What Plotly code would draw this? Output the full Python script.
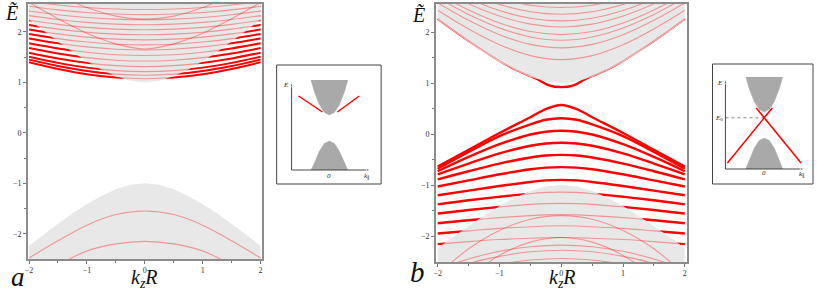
import plotly.graph_objects as go

# ---------------- data ----------------
k_nodes = [-2, -1.5, -1, -0.5, 0, 0.5, 1, 1.5, 2]
k_fine = [-2, -1.75, -1.5, -1.25, -1, -0.75, -0.5, -0.25, 0, 0.25, 0.5, 0.75, 1, 1.25, 1.5, 1.75, 2]
cond_band_edge = [2.236, 2.016, 1.803, 1.601, 1.414, 1.25, 1.118, 1.031, 1.0,
                  1.031, 1.118, 1.25, 1.414, 1.601, 1.803, 2.016, 2.236]
val_band_edge = [-2.236, -2.016, -1.803, -1.601, -1.414, -1.25, -1.118, -1.031, -1.0,
                 -1.031, -1.118, -1.25, -1.414, -1.601, -1.803, -2.016, -2.236]

# panel a : levels in the conduction region
a_levels = [
    [1.395, 1.263, 1.160, 1.093, 1.07, 1.093, 1.160, 1.263, 1.395],
    [1.449, 1.323, 1.225, 1.162, 1.14, 1.162, 1.225, 1.323, 1.449],
    [1.505, 1.384, 1.290, 1.230, 1.21, 1.230, 1.290, 1.384, 1.505],
    [1.586, 1.472, 1.384, 1.329, 1.31, 1.329, 1.384, 1.472, 1.586],
    [1.678, 1.570, 1.489, 1.437, 1.42, 1.437, 1.489, 1.570, 1.678],
    [1.772, 1.671, 1.594, 1.546, 1.53, 1.546, 1.594, 1.671, 1.772],
    [1.868, 1.772, 1.700, 1.655, 1.64, 1.655, 1.700, 1.772, 1.868],
    [1.956, 1.865, 1.797, 1.754, 1.74, 1.754, 1.797, 1.865, 1.956],
    [2.046, 1.958, 1.894, 1.854, 1.84, 1.854, 1.894, 1.958, 2.046],
    [2.136, 2.053, 1.991, 1.953, 1.94, 1.953, 1.991, 2.053, 2.136],
    [2.227, 2.147, 2.088, 2.052, 2.04, 2.052, 2.088, 2.147, 2.227],
    [2.319, 2.243, 2.186, 2.152, 2.14, 2.152, 2.186, 2.243, 2.319],
    [2.412, 2.338, 2.284, 2.251, 2.24, 2.251, 2.284, 2.338, 2.412],
    [2.505, 2.434, 2.382, 2.351, 2.34, 2.351, 2.382, 2.434, 2.505],
    [2.599, 2.531, 2.481, 2.450, 2.44, 2.450, 2.481, 2.531, 2.599],
]
a_cross_levels = [
    [2.58, 2.26, 1.97, 1.76, 1.66, 1.76, 1.97, 2.26, 2.58],
    [2.95, 2.72, 2.48, 2.31, 2.25, 2.31, 2.48, 2.72, 2.95],
]
a_valence_levels = [
    [-2.48, -2.14, -1.83, -1.62, -1.55, -1.62, -1.83, -2.14, -2.48],
    [-2.95, -2.62, -2.34, -2.20, -2.15, -2.20, -2.34, -2.62, -2.95],
]

# panel b
k_gap = [-2, -1.5, -1, -0.7, -0.4, -0.2, 0, 0.2, 0.4, 0.7, 1, 1.5, 2]
b_gap_level = [2.26, 1.83, 1.44, 1.24, 1.085, 0.955, 0.92, 0.955, 1.085, 1.24, 1.44, 1.83, 2.26]
k_surf = [-2, -1.5, -1, -0.5, -0.25, 0, 0.25, 0.5, 1, 1.5, 2]
b_surface_levels = [
    [-0.64, -0.31, 0.02, 0.33, 0.49, 0.57, 0.49, 0.33, 0.02, -0.31, -0.64],
    [-0.68, -0.35, -0.04, 0.19, 0.28, 0.31, 0.28, 0.19, -0.04, -0.35, -0.68],
    [-0.73, -0.45, -0.20, -0.01, 0.045, 0.065, 0.045, -0.01, -0.20, -0.45, -0.73],
    [-0.79, -0.58, -0.38, -0.23, -0.185, -0.17, -0.185, -0.23, -0.38, -0.58, -0.79],
    [-0.89, -0.73, -0.58, -0.46, -0.42, -0.41, -0.42, -0.46, -0.58, -0.73, -0.89],
    [-1.03, -0.91, -0.79, -0.69, -0.66, -0.65, -0.66, -0.69, -0.79, -0.91, -1.03],
    [-1.20, -1.11, -1.02, -0.94, -0.91, -0.90, -0.91, -0.94, -1.02, -1.11, -1.20],
    [-1.38, -1.30, -1.23, -1.17, -1.145, -1.14, -1.145, -1.17, -1.23, -1.30, -1.38],
    [-1.56, -1.49, -1.43, -1.38, -1.365, -1.36, -1.365, -1.38, -1.43, -1.49, -1.56],
    [-1.75, -1.69, -1.64, -1.60, -1.585, -1.58, -1.585, -1.60, -1.64, -1.69, -1.75],
    [-1.95, -1.90, -1.85, -1.82, -1.805, -1.80, -1.805, -1.82, -1.85, -1.90, -1.95],
    [-2.16, -2.11, -2.07, -2.045, -2.035, -2.03, -2.035, -2.045, -2.07, -2.11, -2.16],
]
b_upper_levels = [
    [2.427, 2.061, 1.753, 1.538, 1.46, 1.538, 1.753, 2.061, 2.427],
    [2.572, 2.230, 1.948, 1.758, 1.69, 1.758, 1.948, 2.230, 2.572],
    [2.673, 2.345, 2.080, 1.903, 1.84, 1.903, 2.080, 2.345, 2.673],
    [2.750, 2.433, 2.178, 2.009, 1.95, 2.009, 2.178, 2.433, 2.750],
    [2.858, 2.554, 2.313, 2.155, 2.10, 2.155, 2.313, 2.554, 2.858],
    [2.948, 2.654, 2.422, 2.272, 2.22, 2.272, 2.422, 2.654, 2.948],
    [3.047, 2.764, 2.542, 2.399, 2.35, 2.399, 2.542, 2.764, 3.047],
    [3.148, 2.875, 2.663, 2.527, 2.48, 2.527, 2.663, 2.875, 3.148],
]
b_valence_levels = [
    [-2.76, -2.25, -1.89, -1.67, -1.60, -1.67, -1.89, -2.25, -2.76],
    [-3.43, -2.82, -2.38, -2.12, -2.03, -2.12, -2.38, -2.82, -3.43],
    [-2.65, -2.45, -2.30, -2.21, -2.18, -2.21, -2.30, -2.45, -2.65],
    [-2.90, -2.55, -2.40, -2.31, -2.28, -2.31, -2.40, -2.55, -2.90],
    [-3.00, -2.75, -2.56, -2.47, -2.44, -2.47, -2.56, -2.75, -3.00],
]

# axis ticks
major_ticks = [-2, -1, 0, 1, 2]
major_labels = ["\u22122", "\u22121", "0", "1", "2"]
minor_ticks = [-1.5, -0.5, 0.5, 1.5]

# insets (schematic)
inset_k = [-0.37, -0.3, -0.2, -0.1, 0, 0.1, 0.2, 0.3, 0.37]
inset_cond = [0.958, 0.719, 0.464, 0.311, 0.26, 0.311, 0.464, 0.719, 0.958]
inset_a_val = [-0.84, -0.70, -0.46, -0.31, -0.26, -0.31, -0.46, -0.70, -0.84]
inset_b_val = [-0.88, -0.70, -0.46, -0.31, -0.26, -0.31, -0.46, -0.70, -0.88]
inset_a_left_k, inset_a_left_E = [-0.62, -0.14], [0.64, 0.32]
inset_a_right_k, inset_a_right_E = [0.16, 0.60], [0.32, 0.64]
inset_b_line1_k, inset_b_line1_E = [-0.74, 0.16], [-0.76, 0.34]
inset_b_line2_k, inset_b_line2_E = [-0.16, 0.74], [0.34, -0.76]
inset_b_E0 = 0.144
inset_a_axes = {"k": [-0.76, 0.84], "E": [-0.84, 0.92]}
inset_b_axes = {"k": [-0.78, 0.82], "E": [-0.88, 0.92]}

W, H = 817, 291
RED = "#ff0000"
PALE = "rgba(255,0,0,0.36)"
GRAYFILL = "#e8e8e8"
SERIF = "Liberation Serif, Times New Roman, serif"

fig = go.Figure()


def line(x, y, xa, ya, width, color=RED, shape="spline", dash="solid"):
    fig.add_trace(go.Scatter(x=x, y=y, mode="lines", xaxis=xa, yaxis=ya,
                             line=dict(color=color, width=width, shape=shape, dash=dash),
                             showlegend=False, hoverinfo="skip"))


def band(edge, cap, xa, ya, color=GRAYFILL):
    fig.add_trace(go.Scatter(x=k_fine + [k_fine[-1], k_fine[0]], y=edge + [cap, cap],
                             mode="lines", fill="toself", fillcolor=color,
                             line=dict(width=0, color="rgba(0,0,0,0)"),
                             xaxis=xa, yaxis=ya, showlegend=False, hoverinfo="skip"))


# ---- panel a : bold levels, bands on top, then faint levels ----
for lv in a_levels:
    line(k_nodes, lv, "x", "y", 2.0)
band(cond_band_edge, 3.5, "x", "y")
band(val_band_edge, -3.5, "x", "y")
for lv in a_levels + a_cross_levels + a_valence_levels:
    line(k_nodes, lv, "x", "y", 1.1, color=PALE)

# ---- panel b ----
line(k_gap, b_gap_level, "x2", "y2", 2.4)
for lv in b_surface_levels:
    line(k_surf, lv, "x2", "y2", 2.4)
band(cond_band_edge, 3.5, "x2", "y2")
band(val_band_edge, -3.5, "x2", "y2")
line(k_gap, b_gap_level, "x2", "y2", 1.1, color=PALE)
for lv in b_surface_levels:
    line(k_surf, lv, "x2", "y2", 1.1, color=PALE)
for lv in b_upper_levels + b_valence_levels:
    line(k_nodes, lv, "x2", "y2", 1.1, color=PALE)

# ---- insets ----
INSET_GRAY = "#a9a9a9"
for xa, ya, val in (("x3", "y3", inset_a_val), ("x4", "y4", inset_b_val)):
    fig.add_trace(go.Scatter(x=inset_k, y=inset_cond, mode="lines", fill="toself",
                             fillcolor=INSET_GRAY, line=dict(width=0.5, color=INSET_GRAY),
                             xaxis=xa, yaxis=ya, showlegend=False, hoverinfo="skip"))
    fig.add_trace(go.Scatter(x=inset_k, y=val, mode="lines", fill="toself",
                             fillcolor=INSET_GRAY, line=dict(width=0.5, color=INSET_GRAY),
                             xaxis=xa, yaxis=ya, showlegend=False, hoverinfo="skip"))
line(inset_a_left_k, inset_a_left_E, "x3", "y3", 1.5, shape="linear")
line(inset_a_right_k, inset_a_right_E, "x3", "y3", 1.5, shape="linear")
line([inset_b_axes["k"][0], 0], [inset_b_E0, inset_b_E0], "x4", "y4", 0.7,
     color="#555", shape="linear", dash="dot")
line(inset_b_line1_k, inset_b_line1_E, "x4", "y4", 1.5, shape="linear")
line(inset_b_line2_k, inset_b_line2_E, "x4", "y4", 1.5, shape="linear")

# inset axes drawn as arrows
for xa, ya, ax in (("x3", "y3", inset_a_axes), ("x4", "y4", inset_b_axes)):
    k0, k1 = ax["k"]
    e0, e1 = ax["E"]
    for xs, ys in (([k0, k0], [e0, e1]), ([k0, k1], [e0, e0])):
        fig.add_trace(go.Scatter(x=xs, y=ys, mode="lines+markers", xaxis=xa, yaxis=ya,
                                 line=dict(color="#333", width=0.9),
                                 marker=dict(symbol=["circle", "arrow"], size=[0, 5],
                                             angleref="previous", color="#333"),
                                 showlegend=False, hoverinfo="skip"))

small = dict(family=SERIF, size=7, color="#222")
for xr, yr, x, y, t in (
        ("x3", "y3", -0.88, 0.86, "<i>E</i>"),
        ("x3", "y3", 0.0, -0.95, "<i>0</i>"),
        ("x3", "y3", 0.76, -0.97, "<i>k</i><sub>\u2225</sub>"),
        ("x4", "y4", -0.88, 0.84, "<i>E</i>"),
        ("x4", "y4", -0.90, 0.15, "<i>E</i><sub>0</sub>"),
        ("x4", "y4", 0.0, -0.96, "<i>0</i>"),
        ("x4", "y4", 0.76, -0.98, "<i>k</i><sub>\u2225</sub>")):
    fig.add_annotation(x=x, y=y, xref=xr, yref=yr, text=t, showarrow=False, font=small)

# inset frames
for x0, x1, y0, y1 in ((275, 380, 65, 184), (713, 814, 64, 184)):
    fig.add_shape(type="rect", xref="paper", yref="paper",
                  x0=x0 / W, x1=x1 / W, y0=1 - y1 / H, y1=1 - y0 / H,
                  line=dict(color="#444", width=1), fillcolor="rgba(0,0,0,0)")

# big labels
big = dict(family=SERIF, color="#111")
for x, y, t, s in ((9, 13, "<i>\u1EBC</i>", 20), (418, 14, "<i>\u1EBC</i>", 20),
                   (142, 278, "<i>k<sub>z</sub>R</i>", 20), (562, 278, "<i>k<sub>z</sub>R</i>", 20),
                   (15, 277, "<i>a</i>", 27), (417, 272, "<i>b</i>", 29)):
    fig.add_annotation(x=x / W, y=1 - y / H, xref="paper", yref="paper", text=t,
                       showarrow=False, font=dict(size=s, **big),
                       xanchor="center", yanchor="middle")

tickfont = dict(family=SERIF, size=8, color="#333")
AX = dict(showgrid=False, zeroline=False, showline=True, linecolor="#8c8c8c", linewidth=1.6,
          mirror=True, ticks="outside", ticklen=3, tickwidth=1, tickcolor="#777",
          tickmode="array", tickvals=major_ticks, ticktext=major_labels, tickfont=tickfont,
          minor=dict(tickmode="array", tickvals=minor_ticks, ticks="outside", ticklen=2,
                     tickcolor="#777", showgrid=False),
          fixedrange=True)
HID = dict(visible=False, showgrid=False, zeroline=False, fixedrange=True)

fig.update_layout(
    width=W, height=H, margin=dict(l=0, r=0, t=0, b=0),
    paper_bgcolor="white", plot_bgcolor="white",
    xaxis=dict(domain=[25 / W, 260 / W], range=[-2.02, 2.02], anchor="y", **AX),
    yaxis=dict(domain=[1 - 259 / H, 1 - 4 / H], range=[-2.5, 2.55], anchor="x", **AX),
    xaxis2=dict(domain=[435 / W, 687 / W], range=[-2.03, 2.03], anchor="y2", **AX),
    yaxis2=dict(domain=[1 - 262 / H, 1 - 4 / H], range=[-2.51, 2.55], anchor="x2", **AX),
    xaxis3=dict(domain=[275 / W, 380 / W], range=[-1.06, 1.04], anchor="y3", **HID),
    yaxis3=dict(domain=[1 - 184 / H, 1 - 65 / H], range=[-1.12, 1.26], anchor="x3", **HID),
    xaxis4=dict(domain=[713 / W, 814 / W], range=[-1.04, 0.98], anchor="y4", **HID),
    yaxis4=dict(domain=[1 - 184 / H, 1 - 64 / H], range=[-1.18, 1.22], anchor="x4", **HID),
)

fig.write_html(
    "out.html",
    config={"displayModeBar": False},
    post_script="document.body.style.margin='0';document.body.style.padding='0';"
                "document.body.style.overflow='hidden';",
)
